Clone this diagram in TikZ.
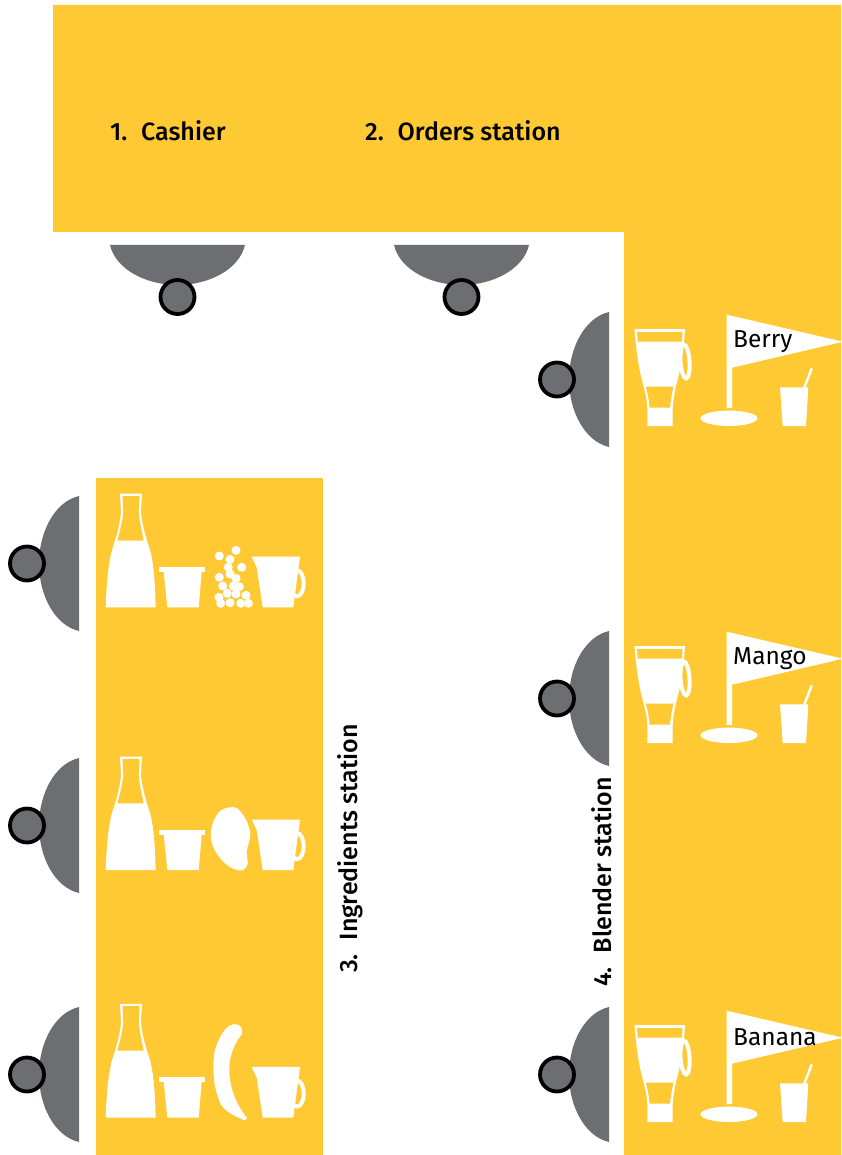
\documentclass[tikz,border=0pt]{standalone}
\usepackage{fontspec}
\setmainfont{Fira Sans}
\newfontfamily\stationfont{Fira Sans Medium}
\definecolor{stationyellow}{HTML}{FFC933}
\definecolor{seatgrey}{HTML}{6D6E71}
\begin{document}
\begin{tikzpicture}
  [
  x=1pt, y=-1pt,
  station/.style={fill=stationyellow, draw=none},
  stationlabel/.style={anchor=base west, inner sep=0pt, font=\stationfont\fontsize{25}{30}\selectfont},
  flaglabel/.style={anchor=base west, inner sep=0pt, font=\fontsize{24.5}{30}\selectfont},
  ware/.style={fill=white, draw=none},
  gap/.style={fill=stationyellow, draw=none},
  handle/.style={draw=white, line width=4pt},
  seat/.pic={
    \fill[seatgrey] (0,-67.5) .. controls (-24,-62) and (-40,-32) .. (-40,0)
      .. controls (-40,32) and (-24,62) .. (0,67.5) -- cycle;
    \filldraw[fill=seatgrey, draw=black, line width=3.8pt] (-52,0) circle (17);
  },
  blender/.pic={
    \draw[handle, rotate around={4:(685,361.5)}] (685,361.5) ellipse (4.5 and 17);
    \fill[ware] (634.5,329) -- (685,329) .. controls (684,345) and (682,365) .. (676,386)
      .. controls (674,395) and (672.7,405) .. (672.7,408) -- (672.7,426) -- (647.3,426) -- (647.3,408)
      .. controls (647,400) and (645,392) .. (643.5,386) .. controls (639,370) and (636,350) .. (634.5,329);
    \fill[gap] (637,332) -- (682.5,332) -- (682,341.7) -- (637.8,341.7) -- cycle;
    \fill[gap] (645.7,386.5) -- (673.5,386.5) .. controls (671.5,395) and (670.5,402) .. (670,407.7)
      -- (649.7,407.7) .. controls (649,400) and (647.5,392) .. (645.7,386.5);
    \fill[ware] (726.7,314.7) -- (843,341.7) -- (732,367.7) -- (732,408) -- (726.7,408) -- cycle;
    \fill[ware] (729,418.3) ellipse (28.5 and 7.7);
    \fill[ware] (780,387.3) -- (808.3,387.3) -- (806,426) -- (782.7,426) -- cycle;
    \draw[white, line width=2.5pt, line cap=round] (804.5,387) -- (811.5,369);
  },
  ingredients/.pic={
    \fill[ware] (120,493.7) -- (142,493.7) -- (141,512) .. controls (142,525) and (146,538) .. (150,550)
      .. controls (154,565) and (155,585) .. (155.7,607.3) -- (105.7,607.3)
      .. controls (106.5,585) and (108,565) .. (112,550) .. controls (116,538) and (120,525) .. (121,512) -- cycle;
    \fill[gap] (122.5,496) -- (139.5,496) -- (138.7,512) .. controls (139.5,522) and (142,532) .. (143.7,540.5)
      -- (117.5,540.5) .. controls (119.5,532) and (122.5,522) .. (123.3,512) -- cycle;
    \fill[ware] (159,566.7) rectangle (205,571.7);
    \fill[ware] (163.7,571.7) -- (201.7,571.7) -- (198.7,607.3) -- (167.3,607.3) -- cycle;
    \draw[handle] (297,583.3) ellipse (6.7 and 13);
    \fill[ware] (251.7,556.7) -- (300,556.7) -- (293.3,607.3) -- (262.7,607.3) -- (256.7,567.3) -- cycle;
  }
  ]
  \useasboundingbox (0,0) rectangle (841,1155);

  \fill[station] (53,5) -- (841,5) -- (841,1155) -- (624,1155) -- (624,232) -- (53,232) -- cycle;
  \fill[station] (96,478) rectangle (323,1155);

  \pic[rotate=90] (s1) at (177.5,245) {seat};
  \pic[rotate=90] (s2) at (461.5,245) {seat};
  \foreach \i/\y in {1/379.5, 2/698.5, 3/1074.5}
    \pic (b\i) at (609,\y) {seat};
  \foreach \i/\y in {1/563.5, 2/825.5, 3/1074.5}
    \pic (g\i) at (79,\y) {seat};

  \begin{scope}
    \clip (0,0) rectangle (841,1155);
    \foreach \i/\y in {1/0, 2/317, 3/696}
      \pic (m\i) at (0,\y) {blender};
  \end{scope}

  \foreach \i/\y in {1/0, 2/262.8, 3/510.2}
    \pic (r\i) at (0,\y) {ingredients};

  % berries, mango, banana
  \foreach \x/\y in {236/550.3, 219.3/556, 230/559.3, 241.7/567.3, 228.3/567.3, 219.3/577.3,
      230/574, 236/578.3, 222.7/586, 239.3/586.7, 233.3/586, 227.3/593.3, 236/594,
      246/595.3, 219/597.3, 220.7/603.3, 230/602.7, 240.7/603.3, 248.3/603.3}
    \fill[ware] (\x,\y) circle (4.5);
  \fill[ware] plot[smooth cycle, tension=0.7] coordinates {(230,807.3) (241,812) (250,831.7) (246.7,851.7)
      (247.3,865) (238.3,870.3) (221.7,860) (211,838.3) (216.7,815)};
  \fill[ware] (242,1034) .. controls (233,1045) and (229,1058) .. (229.3,1070)
    .. controls (229.5,1088) and (236,1104) .. (247,1118) -- (245,1120.5)
    .. controls (232,1115) and (222,1110) .. (219,1100) .. controls (213,1085) and (212,1065) .. (215,1050)
    .. controls (218,1040) and (223,1030) .. (229,1026) .. controls (234,1022) and (244,1024) .. (242,1034);

  \node[stationlabel] (cashier) at (110,141) {1.\hspace{0.55em}Cashier};
  \node[stationlabel] (orders) at (365,141) {2.\hspace{0.55em}Orders station};
  \node[stationlabel, rotate=90] (ingr) at (357,973) {3.\hspace{0.55em}Ingredients station};
  \node[stationlabel, rotate=90] (blend) at (611,987) {4.\hspace{0.55em}Blender station};
  \node[flaglabel] (berry) at (733,347) {Berry};
  \node[flaglabel] (mango) at (733,664) {Mango};
  \node[flaglabel] (banana) at (733,1045) {Banana};
\end{tikzpicture}
\end{document}
